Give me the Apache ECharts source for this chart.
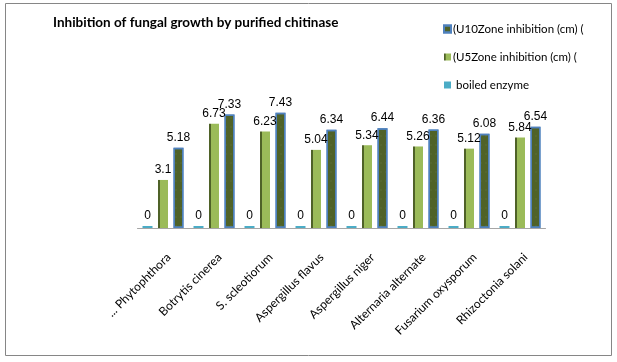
<!DOCTYPE html>
<html>
<head>
<meta charset="utf-8">
<script src="https://cdn.jsdelivr.net/npm/echarts@6/dist/echarts.min.js"></script>
<style>
  html, body { margin: 0; padding: 0; background: #fff; }
  #chart { width: 617px; height: 362px; }
</style>
</head>
<body>
<div id="chart"></div>
<script>
// categories (fungi) and the three series
const fungi = ['... Phytophthora', 'Botrytis cinerea', 'S. scleotiorum', 'Aspergillus flavus',
  'Aspergillus niger', 'Alternaria alternate', 'Fusarium oxysporum', 'Rhizoctonia solani']
const boiled = [0, 0, 0, 0, 0, 0, 0, 0]
const u5 = [3.1, 6.73, 6.23, 5.04, 5.34, 5.26, 5.12, 5.84]
const u10 = [5.18, 7.33, 7.43, 6.34, 6.44, 6.36, 6.08, 6.54]

const FONT = 'Lato'

const chart = echarts.init(document.getElementById('chart'), null, { renderer: 'canvas' })

// shared label style for the value labels
const valLabel = {
  show: true,
  position: 'top',
  distance: 4,
  color: '#000',
  fontFamily: 'Liberation Sans',
  fontSize: 12
}

const option = {
  animation: false,
  backgroundColor: '#fff',
  title: {
    text: 'Inhibition of fungal growth by purified chitinase',
    left: 48,
    top: 11,
    textStyle: { fontFamily: FONT, fontWeight: 'bold', fontSize: 13.5, color: '#000' }
  },
  legend: {
    orient: 'vertical',
    left: 438,
    top: 18,
    itemGap: 16,
    itemWidth: 7,
    itemHeight: 7,
    icon: 'rect',
    data: ['(U10Zone inhibition (cm) (', '(U5Zone inhibition (cm) (', ' boiled enzyme'],
    textStyle: { fontFamily: FONT, fontSize: 11.5, color: '#000', padding: [0, 0, 0, -3] }
  },
  grid: { left: 137.5, width: 408, top: 104, height: 124 },
  xAxis: {
    type: 'category',
    data: fungi,
    axisLine: { lineStyle: { color: '#a6a6a6', width: 1 } },
    axisTick: { show: false },
    axisLabel: {
      rotate: 45,
      margin: 33,
      interval: 0,
      padding: [0, -8, 0, 0],
      fontFamily: FONT,
      fontSize: 12,
      color: '#000'
    }
  },
  yAxis: {
    type: 'value',
    min: 0,
    max: 8,
    show: false
  },
  series: [
    {
      name: ' boiled enzyme',
      type: 'bar',
      data: boiled,
      barWidth: 10,
      barGap: '55%',
      barMinHeight: 2,
      itemStyle: { color: '#4bacc6' },
      label: valLabel
    },
    {
      name: '(U5Zone inhibition (cm) (',
      type: 'bar',
      data: u5,
      barWidth: 10,
      barGap: '55%',
      itemStyle: {
        color: new echarts.graphic.LinearGradient(0, 0, 1, 0, [
          { offset: 0, color: '#4f6228' },
          { offset: 0.2, color: '#4f6228' },
          { offset: 0.25, color: '#9bbb59' },
          { offset: 1, color: '#9bbb59' }
        ])
      },
      label: valLabel
    },
    {
      name: '(U10Zone inhibition (cm) (',
      type: 'bar',
      data: u10,
      barWidth: 10,
      barGap: '55%',
      itemStyle: {
        color: '#4f6228',
        borderColor: '#4f81bd',
        borderWidth: 1.5,
        decal: {
          symbol: 'rect',
          symbolSize: 0.25,
          color: 'rgba(255,255,255,0.5)',
          dashArrayX: [[2, 3]],
          dashArrayY: [2, 7]
        }
      },
      label: valLabel
    }
  ],
  graphic: [
    {
      type: 'rect',
      shape: { x: 5.5, y: 3.5, width: 606, height: 352 },
      style: { fill: 'none', stroke: '#868686', lineWidth: 1 },
      silent: true
    }
  ]
}

chart.setOption(option)
</script>
</body>
</html>
